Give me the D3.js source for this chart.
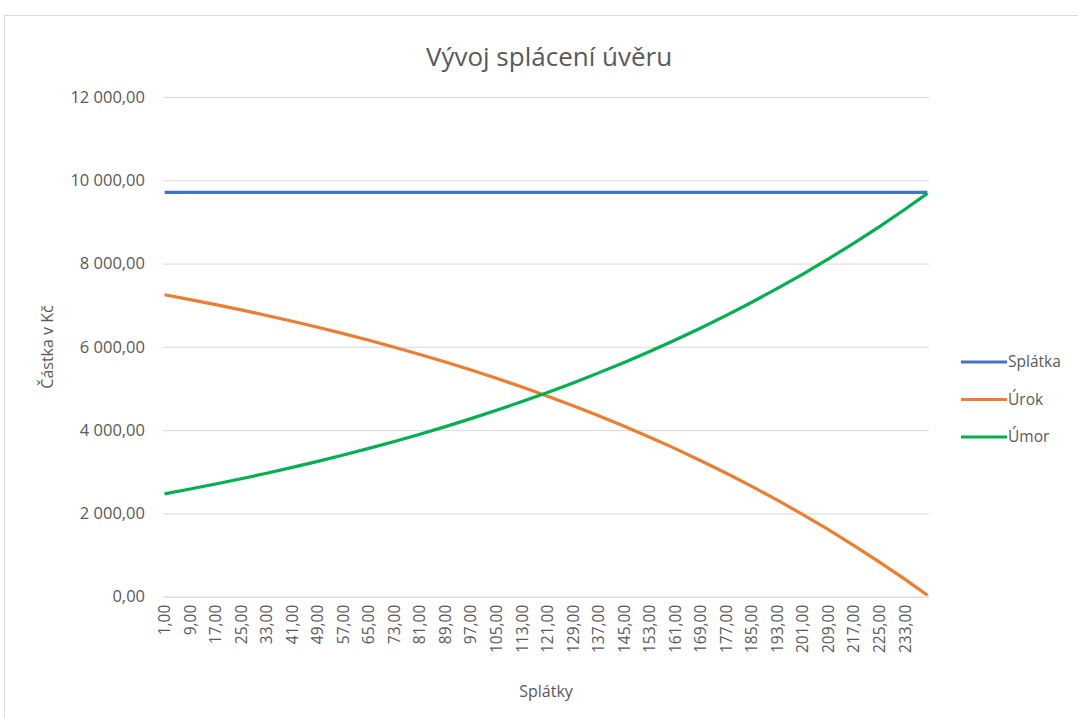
<!DOCTYPE html>
<html>
<head>
<meta charset="utf-8">
<script src="https://cdn.jsdelivr.net/npm/d3@7"></script>
<style>
  body { margin: 0; background: #fff; }
  text { font-family: "Open Sans", sans-serif; fill: #595959; }
</style>
</head>
<body>
<script>
// categories (installments 1..240) and the ones that carry a label
var splatkyCount = 240;
var categories = d3.range(1, splatkyCount + 1);
var labelledCategories = [1, 9, 17, 25, 33, 41, 49, 57, 65, 73, 81, 89, 97, 105, 113, 121,
    129, 137, 145, 153, 161, 169, 177, 185, 193, 201, 209, 217, 225, 233];

// values at these installments
var sampleCategories = [1, 9, 17, 25, 33, 41, 49, 57, 65, 73, 81, 89, 97, 105, 113, 121,
    129, 137, 145, 153, 161, 169, 177, 185, 193, 201, 209, 217, 225, 233, 240];
var splatkaValues = [9710, 9710, 9710, 9710, 9710, 9710, 9710, 9710, 9710, 9710, 9710, 9710,
    9710, 9710, 9710, 9710, 9710, 9710, 9710, 9710, 9710, 9710, 9710, 9710, 9710, 9710, 9710,
    9710, 9710, 9710, 9710];
var urokValues = [7250, 7134, 7013, 6887, 6754, 6615, 6470, 6318, 6159, 5992, 5818, 5635,
    5444, 5244, 5034, 4815, 4586, 4345, 4094, 3830, 3555, 3266, 2964, 2648, 2317, 1971, 1608,
    1228, 831, 415, 35];
var umorValues = [2470, 2586, 2707, 2833, 2966, 3105, 3250, 3402, 3561, 3728, 3902, 4085,
    4276, 4476, 4686, 4905, 5134, 5375, 5626, 5890, 6165, 6454, 6756, 7072, 7403, 7749, 8112,
    8492, 8889, 9305, 9685];
var yTicks = [0, 2000, 4000, 6000, 8000, 10000, 12000];

var seriesNames = ["Splátka", "Úrok", "Úmor"];
var seriesColors = ["#4472c4", "#ed7d31", "#00b050"];
var seriesValues = [splatkaValues, urokValues, umorValues];

var width = 1078, height = 718;
var plot = { left: 163, right: 929, top: 97, bottom: 596.7 };

var czech = d3.formatLocale({ decimal: ",", thousands: " ", grouping: [3], currency: ["", " Kč"] });
var fmt = czech.format(",.2f");

var svg = d3.select("body").append("svg")
    .attr("width", width)
    .attr("height", height);

// chart area border
svg.append("rect")
    .attr("x", 4.5)
    .attr("y", 15.5)
    .attr("width", 1200)
    .attr("height", 800)
    .attr("fill", "#fff")
    .attr("stroke", "#d9d9d9");

var x = d3.scaleBand()
    .domain(categories)
    .range([plot.left, plot.right]);

var y = d3.scaleLinear()
    .domain([0, 12000])
    .range([plot.bottom, plot.top]);

// y axis + gridlines
var yAxis = svg.append("g")
    .attr("transform", "translate(" + plot.left + ",0)")
    .call(d3.axisLeft(y).tickValues(yTicks).tickFormat(fmt)
        .tickSize(-(plot.right - plot.left)).tickPadding(18));
yAxis.select(".domain").remove();
yAxis.selectAll(".tick line").attr("stroke", "#d9d9d9").attr("stroke-width", 1);
yAxis.selectAll(".tick text").style("font-size", "16.5px").attr("fill", "#595959");

// x axis
var xAxis = svg.append("g")
    .attr("transform", "translate(0," + plot.bottom + ")")
    .call(d3.axisBottom(x).tickValues(labelledCategories).tickFormat(fmt).tickSize(0));
xAxis.select(".domain").attr("stroke", "#d9d9d9");
xAxis.selectAll(".tick text")
    .style("font-size", "15.5px")
    .attr("fill", "#595959")
    .attr("text-anchor", "end")
    .attr("transform", "rotate(-90)")
    .attr("x", -8)
    .attr("y", 0)
    .attr("dy", "0.35em");

// series lines
var line = d3.line()
    .x(function(d) { return x(d[0]) + x.bandwidth() / 2; })
    .y(function(d) { return y(d[1]); });

seriesValues.forEach(function(vals, i) {
    svg.append("path")
        .datum(sampleCategories.map(function(c, j) { return [c, vals[j]]; }))
        .attr("fill", "none")
        .attr("stroke", seriesColors[i])
        .attr("stroke-width", 3.2)
        .attr("stroke-linejoin", "round")
        .attr("d", line);
});

// title
svg.append("text")
    .attr("x", 549)
    .attr("y", 66)
    .attr("text-anchor", "middle")
    .style("font-size", "26px")
    .text("Vývoj splácení úvěru");

// axis titles
svg.append("text")
    .attr("transform", "translate(53,347) rotate(-90)")
    .attr("text-anchor", "middle")
    .style("font-size", "16px")
    .text("Částka v Kč");

svg.append("text")
    .attr("x", 546)
    .attr("y", 697)
    .attr("text-anchor", "middle")
    .style("font-size", "16px")
    .text("Splátky");

// legend
var legend = svg.append("g");
seriesNames.forEach(function(name, i) {
    var ly = 362 + i * 37.5;
    legend.append("line")
        .attr("x1", 961).attr("x2", 1007)
        .attr("y1", ly).attr("y2", ly)
        .attr("stroke", seriesColors[i])
        .attr("stroke-width", 3.2);
    legend.append("text")
        .attr("x", 1008)
        .attr("y", ly)
        .attr("dy", "0.35em")
        .style("font-size", "15.5px")
        .text(name);
});
</script>
</body>
</html>
